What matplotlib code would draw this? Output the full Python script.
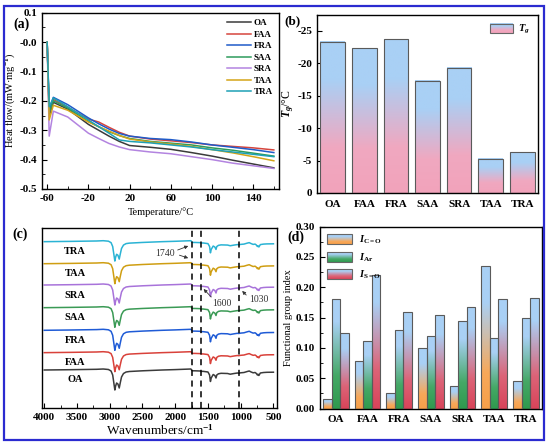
import numpy as np
import matplotlib
matplotlib.use("Agg")
import matplotlib.pyplot as plt
from matplotlib.colors import LinearSegmentedColormap
from matplotlib.patches import Rectangle
from matplotlib.legend_handler import HandlerBase
from matplotlib.image import BboxImage
from matplotlib.transforms import Bbox, TransformedBbox
from matplotlib.ticker import MultipleLocator, FormatStrFormatter

plt.rcParams['font.family'] = ['Liberation Serif', 'DejaVu Serif']
plt.rcParams['font.weight'] = 'bold'
plt.rcParams['mathtext.fontset'] = 'custom'
plt.rcParams['mathtext.rm'] = 'Liberation Serif:bold'
plt.rcParams['mathtext.bf'] = 'Liberation Serif:bold'
plt.rcParams['mathtext.it'] = 'Liberation Serif:italic:bold'
plt.rcParams['axes.unicode_minus'] = False
plt.rcParams['xtick.direction'] = 'in'
plt.rcParams['ytick.direction'] = 'in'
plt.rcParams['axes.linewidth'] = 1.0

samples = ['OA', 'FAA', 'FRA', 'SAA', 'SRA', 'TAA', 'TRA']
colors_a = ['#3b3b3b', '#d6453d', '#1f5bc9', '#2e9b5c', '#b384e0', '#d4a418', '#1ea0b5']
colors_c = ['#3b3b3b', '#d9413a', '#1f5bd6', '#3a9a55', '#a873da', '#cf9e12', '#2ab3d4']

# (a) DSC curves
temp = [-60, -58, -54, -40, -20, -10, 0, 10, 20, 40, 60, 80, 100, 120, 140, 160]
hf_OA  = [0.0, -0.25, -0.205, -0.228, -0.280, -0.300, -0.320, -0.338, -0.352, -0.358, -0.365, -0.376, -0.388, -0.402, -0.415, -0.428]
hf_FAA = [0.0, -0.24, -0.195, -0.222, -0.262, -0.272, -0.290, -0.307, -0.320, -0.330, -0.336, -0.342, -0.350, -0.355, -0.360, -0.367]
hf_FRA = [0.0, -0.23, -0.188, -0.213, -0.258, -0.278, -0.296, -0.311, -0.320, -0.328, -0.332, -0.340, -0.350, -0.358, -0.366, -0.376]
hf_SAA = [0.0, -0.24, -0.200, -0.225, -0.270, -0.288, -0.305, -0.318, -0.328, -0.338, -0.344, -0.350, -0.360, -0.368, -0.378, -0.388]
hf_SRA = [0.0, -0.32, -0.235, -0.255, -0.310, -0.328, -0.345, -0.357, -0.366, -0.374, -0.380, -0.390, -0.400, -0.412, -0.421, -0.430]
hf_TAA = [0.0, -0.265, -0.215, -0.232, -0.272, -0.288, -0.303, -0.318, -0.330, -0.340, -0.347, -0.355, -0.366, -0.377, -0.390, -0.404]
hf_TRA = [0.0, -0.22, -0.190, -0.220, -0.265, -0.288, -0.310, -0.333, -0.338, -0.343, -0.350, -0.357, -0.366, -0.374, -0.382, -0.390]
hf_all = [hf_OA, hf_FAA, hf_FRA, hf_SAA, hf_SRA, hf_TAA, hf_TRA]

# (b) glass transition temperature (magnitude, axis labelled negative)
tg = [23.3, 22.3, 23.7, 17.3, 19.3, 5.3, 6.3]

# (c) FTIR: shared band profile, per-sample baseline offset
wn = [4000, 3600, 3200, 3100, 3020, 2980, 2955, 2935, 2922, 2910, 2895, 2875, 2855, 2840,
      2820, 2790, 2750, 2700, 2500, 2200, 2000, 1760, 1745, 1735, 1700, 1620, 1600, 1580,
      1500, 1475, 1462, 1450, 1420, 1395, 1377, 1365, 1340, 1300, 1200, 1160, 1100, 1050,
      1030, 1000, 950, 900, 870, 840, 810, 780, 760, 745, 735, 722, 700, 650, 600, 500]
band = [-1.0, -0.7, -0.3, 0.0, -0.5, -2.0, -6.0, -15.0, -21.0, -17.0, -14.0, -15.0, -19.0, -14.0,
        -8.0, -4.5, -3.0, -2.5, -1.8, -1.0, -0.6, 0.0, -1.5, -1.8, -1.8, -2.0, -2.5, -2.3,
        -3.0, -6.0, -12.5, -9.0, -5.5, -6.5, -9.0, -6.0, -4.8, -4.3, -4.5, -5.2, -4.5, -4.0,
        -4.2, -3.8, -3.5, -2.5, -2.0, -3.0, -3.8, -3.5, -4.5, -6.0, -5.2, -6.5, -4.0, -3.5, -3.3, -3.2]
ftir_offset = [39.0, 56.3, 78.7, 101.3, 124.0, 145.3, 167.3]
ftir_scale = [1.0, 0.95, 1.0, 0.98, 1.0, 1.0, 0.97]
marks = [1740, 1600, 1030]

# (d) functional group index
i_co = [0.0165, 0.079, 0.025, 0.100, 0.037, 0.235, 0.046]
i_ar = [0.181, 0.112, 0.129, 0.120, 0.144, 0.117, 0.150]
i_so = [0.125, 0.220, 0.159, 0.155, 0.168, 0.181, 0.183]

W, H = 550, 446
fig = plt.figure(figsize=(W / 100, H / 100), dpi=100)


def pos(l, t, r, b):
    return [l / W, 1 - b / H, (r - l) / W, (b - t) / H]


blue = '#a9d0f5'
cm_b = LinearSegmentedColormap.from_list('b', [(0, '#f2a3bb'), (0.3, '#f0a8c0'), (0.75, blue), (1, blue)])
cm_co = LinearSegmentedColormap.from_list('co', [(0, '#f7a04a'), (0.25, '#f7a85a'), (0.75, blue), (1, blue)])
cm_ar = LinearSegmentedColormap.from_list('ar', [(0, '#2f9a4e'), (0.3, '#45a866'), (0.8, blue), (1, blue)])
cm_so = LinearSegmentedColormap.from_list('so', [(0, '#d8445a'), (0.3, '#dc6478'), (0.8, blue), (1, blue)])


class GradHandler(HandlerBase):
    def __init__(self, cmap):
        super().__init__()
        self.cmap = cmap

    def create_artists(self, legend, orig_handle, xdescent, ydescent, width, height, fontsize, trans):
        bb = TransformedBbox(Bbox.from_bounds(-xdescent, -ydescent, width, height), trans)
        img = BboxImage(bb, cmap=self.cmap, interpolation='bilinear')
        img.set_data(np.linspace(1, 0, 64).reshape(-1, 1))
        img.set_clim(0, 1)
        rect = Rectangle((-xdescent, -ydescent), width, height, fill=False,
                         edgecolor='#666666', lw=0.8, transform=trans)
        return [img, rect]


def grad_bars(ax, xs, hs, width, cmap):
    grad = np.linspace(0, 1, 100).reshape(-1, 1)
    for x, h in zip(xs, hs):
        ax.imshow(grad, extent=[x - width / 2, x + width / 2, 0, h], origin='lower',
                  aspect='auto', cmap=cmap, vmin=0, vmax=1, zorder=2, interpolation='bilinear')
    return ax.bar(xs, hs, width, fill=False, edgecolor='#5a5a5a', lw=0.8, zorder=3)


fs = 8

# ---- (a)
ax = fig.add_axes(pos(42, 12.7, 279, 189))
for hf, c, s in zip(hf_all, colors_a, samples):
    ax.plot(temp, hf, color=c, lw=1.1, label=s)
ax.set_xlim(-65, 165)
ax.set_ylim(-0.5, 0.1)
ax.set_xticks([-60, -20, 20, 60, 100, 140])
ax.xaxis.set_minor_locator(MultipleLocator(20))
ax.set_yticks(np.arange(-0.5, 0.11, 0.1))
ax.yaxis.set_major_formatter(FormatStrFormatter('%.1f'))
ax.yaxis.set_minor_locator(MultipleLocator(0.05))
ax.tick_params(labelsize=fs)
ax.set_xlabel('Temperature/°C', fontsize=7.5, labelpad=3)
ax.set_ylabel('Heat flow/(mW·mg$^{-1}$)', fontsize=7.5, labelpad=2)
ax.legend(loc='upper right', frameon=False, fontsize=6.5, handlelength=2.6,
          labelspacing=0.35, borderaxespad=0.3, handletextpad=0.3)
fig.text(13 / W, 1 - 24 / H, '(a)', fontsize=10, va='center')

# ---- (b)
ax = fig.add_axes(pos(317, 15, 538, 193))
xb = np.arange(len(samples))
grad_bars(ax, xb, tg, 0.78, cm_b)
ax.set_xlim(-0.5, 6.5)
ax.set_ylim(0, 27.4)
ax.set_xticks(xb)
ax.set_xticklabels(samples)
ax.set_yticks([0, 5, 10, 15, 20, 25])
ax.set_yticklabels(['0', '-5', '-10', '-15', '-20', '-25'])
ax.tick_params(labelsize=fs)
ax.tick_params(axis='x', length=0, pad=5)
ax.set_ylabel('$T_g$/°C', fontsize=8.5, labelpad=1)
ax.legend([Rectangle((0, 0), 1, 1)], ['$T_g$'], handler_map={Rectangle: GradHandler(cm_b)},
          loc='upper right', frameon=False, fontsize=7.5, handlelength=2.2, handleheight=1.0,
          handletextpad=0.5, borderaxespad=0.4)
fig.text(284 / W, 1 - 21 / H, '(b)', fontsize=9.5, va='center')

# ---- (c)
ax = fig.add_axes(pos(42.3, 228, 276.7, 408))
band_arr = np.array(band)
for off, sc, c, s in zip(ftir_offset, ftir_scale, colors_c, samples):
    ax.plot(wn, off + sc * band_arr, color=c, lw=1.1)
    ax.text(3530, off - 11, s, fontsize=7.5, ha='center', va='center')
for m in marks:
    ax.axvline(m, color='black', ls=(0, (4, 3)), lw=1.1)
ax.set_xlim(4030, 450)
ax.set_ylim(0, 180)
ax.set_xticks(np.arange(4000, 499, -500))
ax.xaxis.set_minor_locator(MultipleLocator(250))
ax.set_yticks([])
ax.tick_params(labelsize=fs)
ax.set_xlabel('Wavenumbers/cm$^{-1}$', fontsize=9.5, labelpad=1)
akw = dict(arrowstyle='-|>', color='#333333', lw=0.6, mutation_scale=5)
ax.text(2154, 154.7, '1740', fontsize=7, fontweight='normal', ha='center', va='center', color='#333333')
ax.annotate('', xy=(1761, 163), xytext=(2002, 157), arrowprops=akw)
ax.annotate('', xy=(1761, 149), xytext=(1976, 153.7), arrowprops=akw)
ax.text(1287, 104.7, '1600', fontsize=7, fontweight='normal', ha='center', va='center', color='#333333')
ax.annotate('', xy=(1596, 121), xytext=(1420, 109), arrowprops=akw)
ax.text(728, 108, '1030', fontsize=7, fontweight='normal', ha='center', va='center', color='#333333')
ax.annotate('', xy=(1008, 119), xytext=(885, 111), arrowprops=akw)
fig.text(12 / W, 1 - 234 / H, '(c)', fontsize=10, va='center')

# ---- (d)
ax = fig.add_axes(pos(320, 226.7, 541.7, 408.5))
bw = 0.27
grad_bars(ax, xb - bw, i_co, bw, cm_co)
grad_bars(ax, xb, i_ar, bw, cm_ar)
grad_bars(ax, xb + bw, i_so, bw, cm_so)
ax.set_xlim(-0.5, 6.5)
ax.set_ylim(0, 0.30)
ax.set_xticks(xb)
ax.set_xticklabels(samples)
ax.set_yticks(np.arange(0, 0.301, 0.05))
ax.yaxis.set_major_formatter(FormatStrFormatter('%.2f'))
ax.yaxis.set_minor_locator(MultipleLocator(0.025))
ax.tick_params(labelsize=fs)
ax.tick_params(axis='x', length=0, pad=5)
ax.set_ylabel('Functional group index', fontsize=7.5, labelpad=2)


class H0(Rectangle):
    pass


class H1(Rectangle):
    pass


class H2(Rectangle):
    pass


hs = [H0((0, 0), 1, 1), H1((0, 0), 1, 1), H2((0, 0), 1, 1)]
ax.legend(hs, ['$I_{\\mathbf{C=O}}$', '$I_{\\mathbf{Ar}}$', '$I_{\\mathbf{S=O}}$'],
          handler_map={H0: GradHandler(cm_co), H1: GradHandler(cm_ar), H2: GradHandler(cm_so)},
          loc='upper left', frameon=False, fontsize=7.5, handlelength=2.4, handleheight=1.1,
          labelspacing=0.45, handletextpad=0.6, borderaxespad=0.3)
fig.text(287 / W, 1 - 237 / H, '(d)', fontsize=10, va='center')

fig.patches.append(Rectangle((4 / W, 1 - 440 / H), 540 / W, 434 / H, transform=fig.transFigure,
                             fill=False, edgecolor='#2b2bd0', lw=1.6))

fig.savefig('out.png', dpi=100)
